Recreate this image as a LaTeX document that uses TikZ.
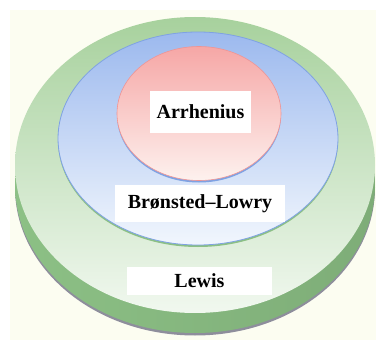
\documentclass[tikz,border=0pt]{standalone}
\usepackage{fontspec}
\setmainfont{Liberation Serif}
\definecolor{cream}{HTML}{FCFDF1}
\definecolor{rimgray}{HTML}{8E8E9C}
\definecolor{lewisdark}{HTML}{8CC085}
\definecolor{lewismid}{HTML}{DDEBDA}
\definecolor{lewistop}{HTML}{A7D19D}
\definecolor{lewislow}{HTML}{F1F8EF}
\definecolor{bronline}{HTML}{7FA2E3}
\definecolor{brontop}{HTML}{9CB9EE}
\definecolor{bronlow}{HTML}{F1F6FD}
\definecolor{arrline}{HTML}{EE8C8C}
\definecolor{arrtop}{HTML}{F6A7A6}
\definecolor{arrlow}{HTML}{FDF1EE}
\tikzset{
  label box/.style={fill=white, inner sep=0pt, font=\fontsize{20}{24}\selectfont\bfseries},
}
\begin{document}
\begin{tikzpicture}[x=1pt, y=-1pt, line join=round, line cap=round]
  \useasboundingbox (0,0) rectangle (376,340);
  \fill[cream] (10,10) rectangle (376,340);
  % outer disk: rim shadow, side, top face
  \fill[rimgray] (195,187.5) ellipse [x radius=180, y radius=148];
  \shade[left color=lewisdark, middle color=lewismid, right color=lewisdark!90!black] (195,185) ellipse [x radius=180, y radius=148];
  \shade[top color=lewistop, middle color=lewistop!45!lewislow, bottom color=lewislow] (195,165) ellipse [x radius=180, y radius=148];
  % middle ellipse
  \fill[lewisdark] (198,140.5) ellipse [x radius=140, y radius=106.5];
  \shade[top color=brontop, bottom color=bronlow, draw=bronline, line width=.8pt] (198,138.5) ellipse [x radius=140, y radius=106.5];
  % inner circle
  \fill[bronline] (199,115.5) ellipse [x radius=82, y radius=67];
  \shade[top color=arrtop, bottom color=arrlow, draw=arrline!70!arrtop, line width=.6pt] (199,113.5) ellipse [x radius=82, y radius=67];
  % labels
  \node[label box, minimum width=101pt, minimum height=42pt] (arr) at (200.5,112) {Arrhenius};
  \node[label box, minimum width=170pt, minimum height=37pt] (bl) at (200,203.5) {Brønsted–Lowry};
  \node[label box, minimum width=145pt, minimum height=28pt] (lew) at (199.5,281) {Lewis};
\end{tikzpicture}
\end{document}
